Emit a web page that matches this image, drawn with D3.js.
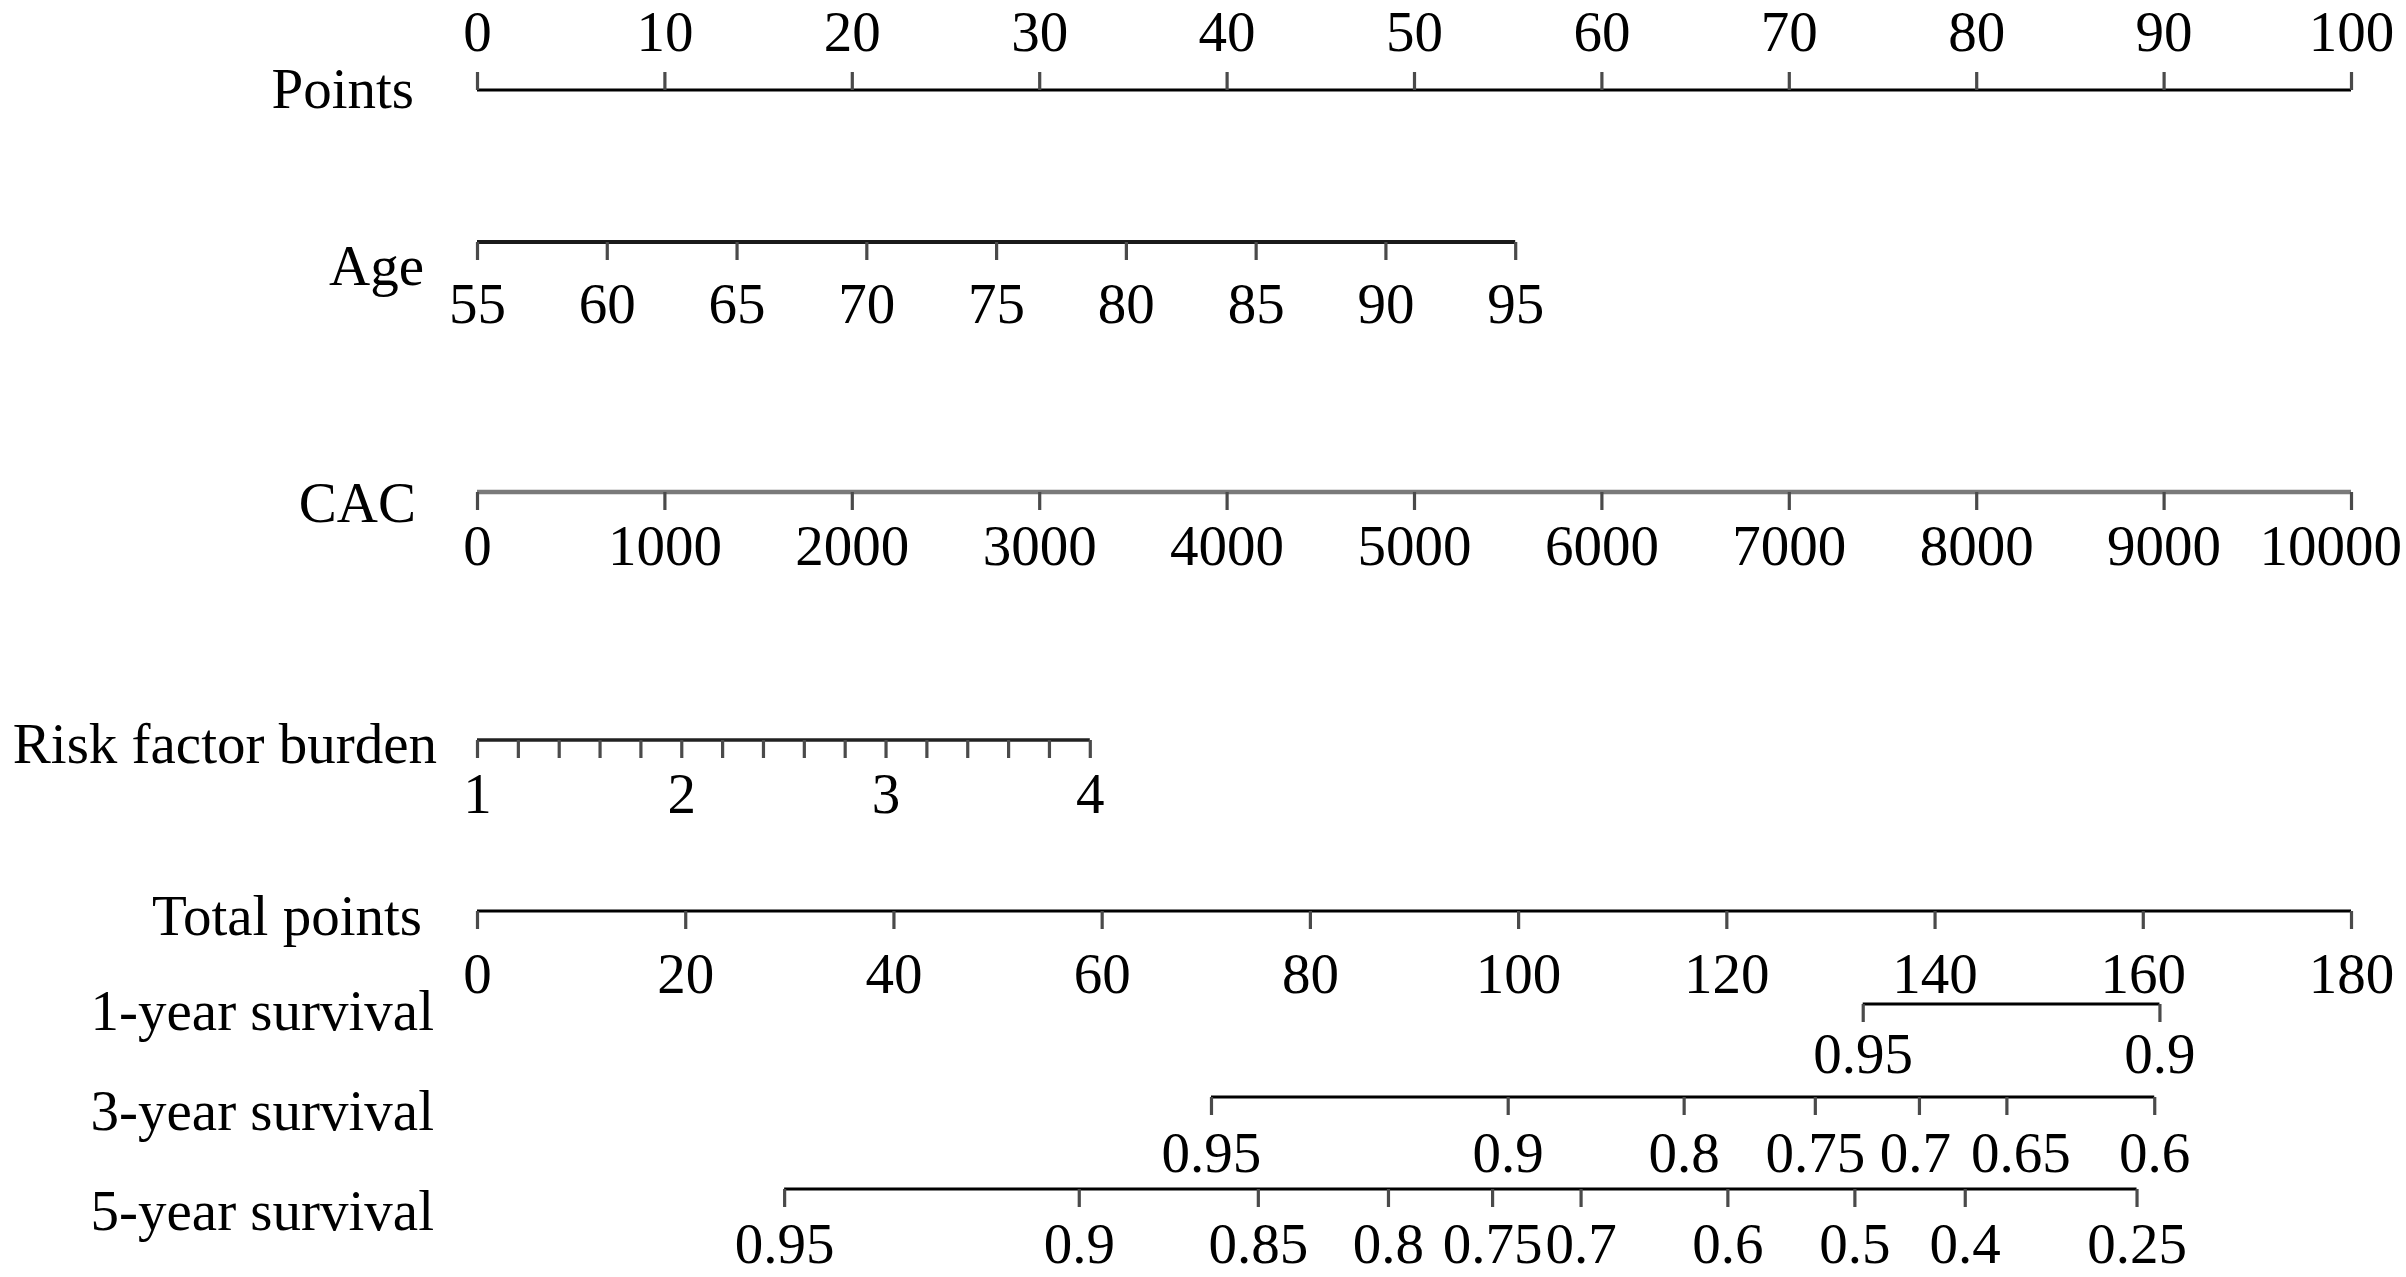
<!DOCTYPE html>
<html>
<head>
<meta charset="utf-8">
<script src="https://cdn.jsdelivr.net/npm/d3@7"></script>
<style>
  html, body { margin: 0; padding: 0; background: #fff; }
  svg { display: block; }
  text { font-family: "Liberation Serif", "Times New Roman", serif; fill: #000; }
</style>
</head>
<body>
<svg id="chart" width="2406" height="1277"></svg>
<script>
// ---------------- data ----------------
const rowLabels = ["Points", "Age", "CAC", "Risk factor burden", "Total points",
                   "1-year survival", "3-year survival", "5-year survival"];

const pointsTicks = [0, 10, 20, 30, 40, 50, 60, 70, 80, 90, 100];

const ageRange = [55, 95];
const ageRangePoints = [0, 55.4];
const ageTicks = [55, 60, 65, 70, 75, 80, 85, 90, 95];

const cacRange = [0, 10000];
const cacRangePoints = [0, 100];
const cacTicks = [0, 1000, 2000, 3000, 4000, 5000, 6000, 7000, 8000, 9000, 10000];

const riskRange = [1, 4];
const riskRangePoints = [0, 32.7];
const riskTicks = [1, 1.2, 1.4, 1.6, 1.8, 2, 2.2, 2.4, 2.6, 2.8, 3, 3.2, 3.4, 3.6, 3.8, 4];
const riskLabels = [1, 2, 3, 4];

const totalRange = [0, 180];
const totalTicks = [0, 20, 40, 60, 80, 100, 120, 140, 160, 180];

const surv1Probs  = [0.95, 0.9];
const surv1Points = [133.1, 161.6];

const surv3Probs  = [0.95, 0.9, 0.8, 0.75, 0.7, 0.65, 0.6];
const surv3Points = [70.5, 99.0, 115.9, 128.5, 138.5, 146.9, 161.1];

const surv5Probs  = [0.95, 0.9, 0.85, 0.8, 0.75, 0.7, 0.6, 0.5, 0.4, 0.25];
const surv5Points = [29.5, 57.8, 75.0, 87.5, 97.5, 106.0, 120.1, 132.3, 142.9, 159.4];

// ---------------- layout ----------------
const W = 2406, H = 1277;
const FONT = 57;
const x0 = 477, x1 = 2351;
const svg = d3.select("#chart");

const pointsScale = d3.scaleLinear().domain([0, 100]).range([x0, x1]);
const totalScale = d3.scaleLinear().domain(totalRange).range([x0, x1]);

// row layout: line y, label baseline y, label right edge, tick label baseline offset
const layout = [
  { y: 90,   labelY: 108,  labelX: 414, lab: -39, stroke: "#000", sw: 3 },
  { y: 242,  labelY: 285,  labelX: 424, lab: 81,  stroke: "#1a1a1a", sw: 4 },
  { y: 492,  labelY: 522,  labelX: 416, lab: 73,  stroke: "#7a7a7a", sw: 4.5 },
  { y: 740,  labelY: 763,  labelX: 437, lab: 73,  stroke: "#222", sw: 3.5 },
  { y: 911,  labelY: 935,  labelX: 422, lab: 82,  stroke: "#000", sw: 3 },
  { y: 1004, labelY: 1030, labelX: 434, lab: 69,  stroke: "#000", sw: 3 },
  { y: 1097, labelY: 1130, labelX: 434, lab: 75,  stroke: "#000", sw: 3 },
  { y: 1189, labelY: 1230, labelX: 434, lab: 74,  stroke: "#000", sw: 3 }
];
// small horizontal nudges of crowded tick labels (row index, value, dx)
const labelNudges = [ { row: 6, value: 0.65, dx: 14 }, { row: 6, value: 0.7, dx: -4 } ];

// scales per row
const ageScale = d3.scaleLinear().domain(ageRange).range(ageRangePoints.map(pointsScale));
const cacScale = d3.scaleLinear().domain(cacRange).range(cacRangePoints.map(pointsScale));
const riskScale = d3.scaleLinear().domain(riskRange).range(riskRangePoints.map(pointsScale));
const s1Scale = d3.scaleLinear().domain(surv1Probs).range(surv1Points.map(totalScale));
const s3Scale = d3.scaleLinear().domain(surv3Probs).range(surv3Points.map(totalScale));
const s5Scale = d3.scaleLinear().domain(surv5Probs).range(surv5Points.map(totalScale));

const rows = [
  { scale: pointsScale, ticks: pointsTicks, labels: pointsTicks, top: true },
  { scale: ageScale, ticks: ageTicks, labels: ageTicks },
  { scale: cacScale, ticks: cacTicks, labels: cacTicks },
  { scale: riskScale, ticks: riskTicks, labels: riskLabels },
  { scale: totalScale, ticks: totalTicks, labels: totalTicks },
  { scale: s1Scale, ticks: surv1Probs, labels: surv1Probs },
  { scale: s3Scale, ticks: surv3Probs, labels: surv3Probs },
  { scale: s5Scale, ticks: surv5Probs, labels: surv5Probs }
];

const TICK = 18;

rows.forEach((r, i) => {
  const L = layout[i];
  svg.append("text")
    .attr("x", L.labelX).attr("y", L.labelY)
    .attr("text-anchor", "end")
    .attr("font-size", FONT)
    .text(rowLabels[i]);

  const axis = (r.top ? d3.axisTop(r.scale) : d3.axisBottom(r.scale))
    .tickValues(r.ticks)
    .tickSize(TICK)
    .tickSizeOuter(0)
    .tickFormat(d => r.labels.some(v => Math.abs(v - d) < 1e-9) ? String(d) : "");

  const g = svg.append("g").attr("transform", `translate(0,${L.y})`).call(axis);
  g.select(".domain")
    .attr("stroke", L.stroke)
    .attr("stroke-width", L.sw)
    .attr("d", () => {
      const rg = r.scale.range();
      const a = Math.min(rg[0], rg[rg.length - 1]), b = Math.max(rg[0], rg[rg.length - 1]);
      return `M${a},0H${b}`;
    });
  g.selectAll(".tick line")
    .attr("stroke", "#4a4a4a")
    .attr("stroke-width", 3.2);
  g.selectAll(".tick text")
    .attr("font-family", "'Liberation Serif', 'Times New Roman', serif")
    .attr("font-size", FONT)
    .attr("fill", "#000")
    .attr("dy", null)
    .attr("y", L.lab)
    .attr("x", d => {
      const n = labelNudges.find(q => q.row === i && Math.abs(q.value - d) < 1e-9);
      return n ? n.dx : 0;
    });
});

// keep tick labels inside the page
svg.selectAll(".tick text").each(function () {
  const bb = this.getBBox();
  const tr = this.parentNode.transform.baseVal.consolidate();
  const tx = tr ? tr.matrix.e : 0;
  const right = tx + bb.x + bb.width;
  if (right > W - 4) d3.select(this).attr("x", (W - 4) - right + (+d3.select(this).attr("x") || 0));
});
</script>
</body>
</html>
